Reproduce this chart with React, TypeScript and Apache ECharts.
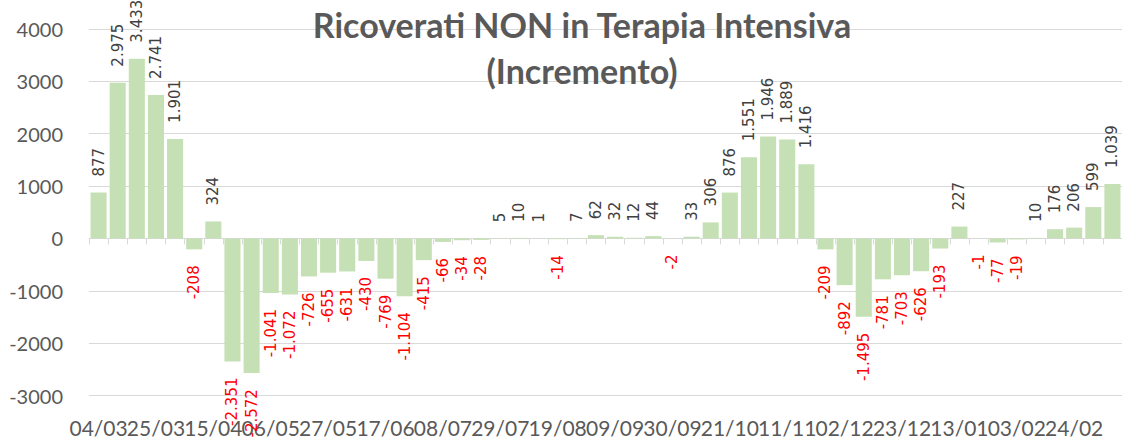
import React, { useEffect, useRef } from "react";
import * as echarts from "echarts";

const categories: string[] = [
  "04/03", "11/03", "18/03", "25/03", "01/04", "08/04", "15/04", "22/04", "29/04", "06/05",
  "13/05", "20/05", "27/05", "03/06", "10/06", "17/06", "24/06", "01/07", "08/07", "15/07",
  "22/07", "29/07", "05/08", "12/08", "19/08", "26/08", "02/09", "09/09", "16/09", "23/09",
  "30/09", "07/10", "14/10", "21/10", "28/10", "04/11", "11/11", "18/11", "25/11", "02/12",
  "09/12", "16/12", "23/12", "30/12", "06/01", "13/01", "20/01", "27/01", "03/02", "10/02",
  "17/02", "24/02", "03/03", "10/03",
];

const tickLabels: string[] = [
  "04/03", "25/03", "15/04", "06/05", "27/05", "17/06", "08/07", "29/07", "19/08",
  "09/09", "30/09", "21/10", "11/11", "02/12", "23/12", "13/01", "03/02", "24/02",
];

const values: number[] = [
  877, 2975, 3433, 2741, 1901, -208, 324, -2351, -2572, -1041,
  -1072, -726, -655, -631, -430, -769, -1104, -415, -66, -34,
  -28, 5, 10, 1, -14, 7, 62, 32, 12, 44,
  -2, 33, 306, 876, 1551, 1946, 1889, 1416, -209, -892,
  -1495, -781, -703, -626, -193, 227, -1, -77, -19, 10,
  176, 206, 599, 1039,
];

const yTicks = { min: -3000, max: 4000, interval: 1000 };

const titleLines: string[] = ["Ricoverati NON in Terapia Intensiva", "(Incremento)"];

function fmt(v: number): string {
  const s = String(Math.abs(v)).replace(/\B(?=(\d{3})+(?!\d))/g, ".");
  return (v < 0 ? "-" : "") + s;
}

function labelAxis(parity: number) {
  return {
    type: "category",
    data: categories,
    position: "bottom",
    axisLine: { show: false, onZero: false },
    axisTick: { show: false },
    axisLabel: {
      show: true,
      interval: (index: number) => {
        const k = tickLabels.indexOf(categories[index]);
        return k >= 0 && k % 2 === parity;
      },
      color: "#595959",
      fontFamily: "Lato",
      fontSize: 21,
      margin: 21,
    },
    splitLine: { show: false },
  };
}

export default function App() {
  const ref = useRef<HTMLDivElement>(null);
  useEffect(() => {
    if (!ref.current) return;
    const chart = echarts.init(ref.current, undefined, { renderer: "svg" });
    const data = values.map((v) => ({
      value: v,
      label: {
        position: v >= 0 ? "top" : "bottom",
        align: v >= 0 ? "left" : "right",
        color: v >= 0 ? "#404040" : "#FF0000",
      },
    }));
    chart.setOption({
      animation: false,
      backgroundColor: "#ffffff",
      grid: { left: 89, top: 29, width: 1034, height: 366.5, containLabel: false },
      graphic: [
        {
          type: "text",
          x: 582,
          y: 1,
          z: 10,
          style: {
            text: titleLines.join("\n"),
            font: "bold 34px Lato",
            fill: "#595959",
            textAlign: "center",
            textVerticalAlign: "top",
            lineHeight: 46,
          },
        },
      ],
      xAxis: [
        {
          type: "category",
          data: categories,
          axisLine: { show: true, onZero: true, lineStyle: { color: "#d9d9d9", width: 1 } },
          axisTick: { show: true, interval: 0, length: 6, lineStyle: { color: "#d9d9d9" } },
          axisLabel: { show: false },
          splitLine: { show: false },
        },
        labelAxis(0),
        labelAxis(1),
      ],
      yAxis: {
        type: "value",
        min: yTicks.min,
        max: yTicks.max,
        interval: yTicks.interval,
        axisLine: { show: false },
        axisTick: { show: false },
        axisLabel: {
          color: "#595959",
          fontFamily: "Lato",
          fontSize: 20,
          margin: 26,
          formatter: (v: number) => String(v),
        },
        splitLine: { show: true, lineStyle: { color: "#d9d9d9", width: 1 } },
      },
      series: [
        {
          type: "bar",
          xAxisIndex: 0,
          data,
          barCategoryGap: "16%",
          itemStyle: { color: "#C5E0B4" },
          label: {
            show: true,
            rotate: 90,
            distance: 16,
            verticalAlign: "middle",
            fontFamily: "DejaVu Sans",
            fontSize: 15,
            formatter: (p: any) => fmt(p.value),
          },
        },
      ],
    });
    return () => chart.dispose();
  }, []);
  return (
    <div
      ref={ref}
      style={{ position: "fixed", left: 0, top: 0, width: 1122, height: 439 }}
    />
  );
}
